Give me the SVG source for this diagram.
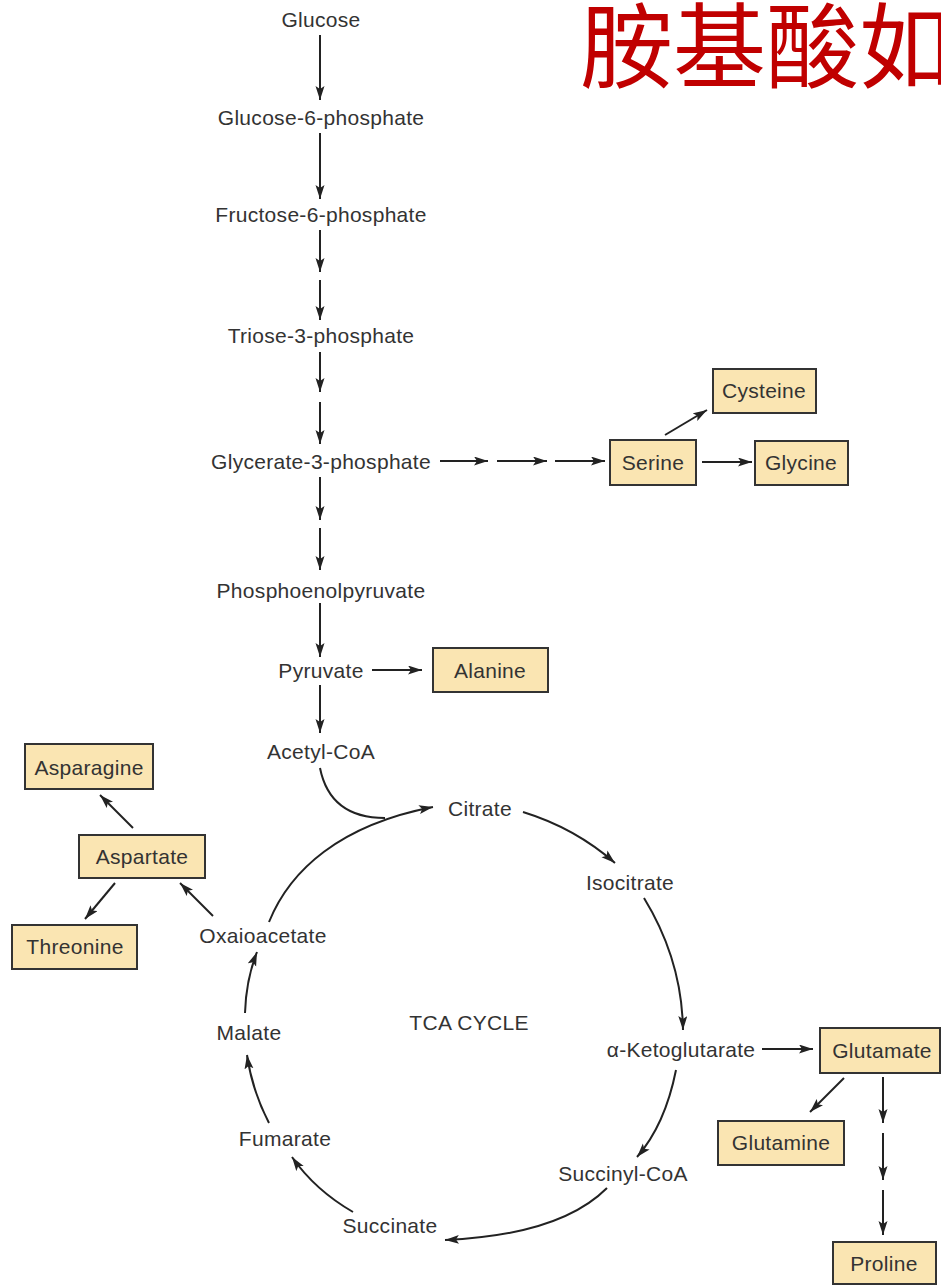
<svg xmlns="http://www.w3.org/2000/svg" width="941" height="1285" viewBox="0 0 941 1285">
<style>
.t{font-family:"Liberation Sans",Arial,sans-serif;font-size:21px;fill:#333;text-anchor:middle;letter-spacing:0.3px}
.box{fill:#fae5b2;stroke:#333;stroke-width:2}
.c{fill:none;stroke:#222;stroke-width:2;marker-end:url(#ah)}
.n{fill:none;stroke:#222;stroke-width:2}
.cjk{font-family:"Liberation Sans","Noto Sans CJK SC",sans-serif;font-size:93px;fill:#c00000}
</style>
<defs>
<marker id="ah" markerUnits="userSpaceOnUse" markerWidth="15" markerHeight="10" refX="14" refY="4.5" orient="auto">
<path d="M0,0 L14,4.5 L0,9 L3,4.5 z" fill="#222"/>
</marker>
</defs>
<rect width="941" height="1285" fill="#fff"/>
<text class="cjk" x="580" y="81">胺基酸如</text>

<g id="connectors">
<line class="c" x1="320" y1="35" x2="320" y2="100"/>
<line class="c" x1="320" y1="133" x2="320" y2="199"/>
<line class="c" x1="320" y1="230" x2="320" y2="272"/>
<line class="c" x1="320" y1="280" x2="320" y2="320"/>
<line class="c" x1="320" y1="352" x2="320" y2="392"/>
<line class="c" x1="320" y1="402" x2="320" y2="444"/>
<line class="c" x1="320" y1="477" x2="320" y2="520"/>
<line class="c" x1="320" y1="528" x2="320" y2="570"/>
<line class="c" x1="320" y1="603" x2="320" y2="657"/>
<line class="c" x1="320" y1="685" x2="320" y2="733"/>
<line class="c" x1="372" y1="670" x2="422" y2="670"/>
<line class="c" x1="440" y1="461" x2="488" y2="461"/>
<line class="c" x1="497" y1="461" x2="547" y2="461"/>
<line class="c" x1="555" y1="461" x2="605" y2="461"/>
<line class="c" x1="702" y1="462" x2="752" y2="462"/>
<line class="c" x1="665" y1="435" x2="707" y2="410"/>
<line class="c" x1="133" y1="828" x2="100" y2="795"/>
<line class="c" x1="115" y1="883" x2="85" y2="919"/>
<line class="c" x1="213" y1="916" x2="180" y2="883"/>
<line class="c" x1="762" y1="1049" x2="813" y2="1049"/>
<line class="c" x1="844" y1="1078" x2="810" y2="1112"/>
<line class="c" x1="883" y1="1077" x2="883" y2="1123"/>
<line class="c" x1="883" y1="1133" x2="883" y2="1180"/>
<line class="c" x1="883" y1="1190" x2="883" y2="1235"/>
<path class="c" d="M269,922 C290,870 340,825 433,807"/>
<path class="n" d="M320,768 Q330,818 385,818"/>
<path class="c" d="M523,812 Q575,828 615,863"/>
<path class="c" d="M644,898 Q682,960 683,1030"/>
<path class="c" d="M676,1070 Q665,1125 637,1157"/>
<path class="c" d="M607,1188 Q560,1235 445,1240"/>
<path class="c" d="M353,1212 Q315,1190 292,1157"/>
<path class="c" d="M269,1123 Q252,1090 247,1055"/>
<path class="c" d="M245,1013 Q246,980 257,952"/>
</g>

<g id="glucose"><text class="t" x="321" y="27">Glucose</text></g>
<g id="g6p"><text class="t" x="321" y="125">Glucose-6-phosphate</text></g>
<g id="f6p"><text class="t" x="321" y="222">Fructose-6-phosphate</text></g>
<g id="triose"><text class="t" x="321" y="343">Triose-3-phosphate</text></g>
<g id="glycerate"><text class="t" x="321" y="469">Glycerate-3-phosphate</text></g>
<g id="pep"><text class="t" x="321" y="598">Phosphoenolpyruvate</text></g>
<g id="pyruvate"><text class="t" x="321" y="678">Pyruvate</text></g>
<g id="acetylcoa"><text class="t" x="321" y="759">Acetyl-CoA</text></g>
<g id="citrate"><text class="t" x="480" y="816">Citrate</text></g>
<g id="isocitrate"><text class="t" x="630" y="890">Isocitrate</text></g>
<g id="tca"><text class="t" x="469" y="1030">TCA CYCLE</text></g>
<g id="akg"><text class="t" x="681" y="1057">α-Ketoglutarate</text></g>
<g id="oxaloacetate"><text class="t" x="263" y="943">Oxaioacetate</text></g>
<g id="malate"><text class="t" x="249" y="1040">Malate</text></g>
<g id="fumarate"><text class="t" x="285" y="1146">Fumarate</text></g>
<g id="succinate"><text class="t" x="390" y="1233">Succinate</text></g>
<g id="succinylcoa"><text class="t" x="623" y="1181">Succinyl-CoA</text></g>

<g id="cysteine"><rect class="box" x="713" y="369" width="103" height="44"/><text class="t" x="764" y="398">Cysteine</text></g>
<g id="serine"><rect class="box" x="610" y="440" width="86" height="45"/><text class="t" x="653" y="470">Serine</text></g>
<g id="glycine"><rect class="box" x="755" y="441" width="93" height="44"/><text class="t" x="801" y="470">Glycine</text></g>
<g id="alanine"><rect class="box" x="433" y="648" width="115" height="44"/><text class="t" x="490" y="678">Alanine</text></g>
<g id="asparagine"><rect class="box" x="25" y="744" width="128" height="45"/><text class="t" x="89" y="775">Asparagine</text></g>
<g id="aspartate"><rect class="box" x="79" y="835" width="126" height="43"/><text class="t" x="142" y="864">Aspartate</text></g>
<g id="threonine"><rect class="box" x="12" y="925" width="125" height="44"/><text class="t" x="75" y="954">Threonine</text></g>
<g id="glutamate"><rect class="box" x="820" y="1028" width="120" height="45"/><text class="t" x="882" y="1058">Glutamate</text></g>
<g id="glutamine"><rect class="box" x="718" y="1121" width="126" height="44"/><text class="t" x="781" y="1150">Glutamine</text></g>
<g id="proline"><rect class="box" x="833" y="1242" width="103" height="42"/><text class="t" x="884" y="1271">Proline</text></g>
</svg>
